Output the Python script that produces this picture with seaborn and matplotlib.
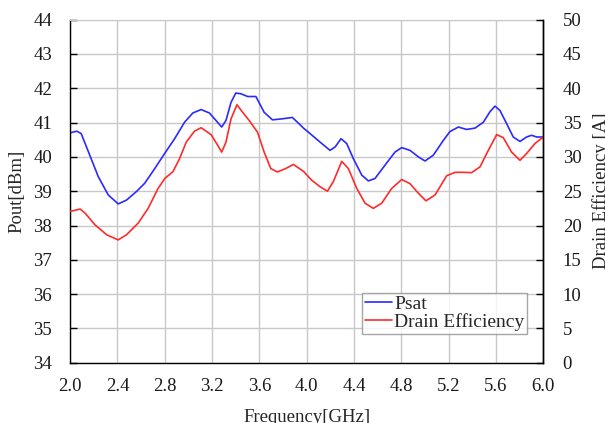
import matplotlib
matplotlib.use("Agg")
import matplotlib.pyplot as plt
import seaborn as sns
import pandas as pd

freq_psat = [2.000, 2.056, 2.093, 2.154, 2.238, 2.322, 2.406, 2.476, 2.560, 2.630, 2.715, 2.793,
             2.883, 2.967, 3.037, 3.107, 3.177, 3.233, 3.281, 3.317, 3.360, 3.400, 3.444, 3.500,
             3.570, 3.640, 3.710, 3.794, 3.878, 3.934, 3.972, 4.028, 4.113, 4.197, 4.240, 4.290,
             4.338, 4.394, 4.465, 4.521, 4.577, 4.662, 4.746, 4.803, 4.873, 4.944, 5.000, 5.070,
             5.155, 5.211, 5.282, 5.352, 5.423, 5.493, 5.550, 5.592, 5.634, 5.690, 5.746, 5.803,
             5.859, 5.901, 5.944, 6.000]
psat = [40.70, 40.75, 40.68, 40.15, 39.42, 38.89, 38.63, 38.74, 38.99, 39.23, 39.66, 40.07,
        40.53, 41.01, 41.28, 41.38, 41.28, 41.06, 40.87, 41.06, 41.59, 41.86, 41.84, 41.76,
        41.76, 41.30, 41.08, 41.11, 41.15, 40.97, 40.84, 40.68, 40.43, 40.19, 40.29, 40.53,
        40.39, 39.95, 39.47, 39.30, 39.37, 39.76, 40.14, 40.27, 40.19, 40.00, 39.88, 40.05,
        40.48, 40.74, 40.87, 40.80, 40.84, 41.01, 41.32, 41.48, 41.35, 40.97, 40.58, 40.45,
        40.58, 40.63, 40.58, 40.58]

freq_eff = [2.000, 2.084, 2.126, 2.210, 2.308, 2.406, 2.476, 2.575, 2.659, 2.743, 2.800, 2.869,
            2.925, 2.981, 3.051, 3.107, 3.191, 3.247, 3.281, 3.317, 3.360, 3.410, 3.458, 3.514,
            3.584, 3.640, 3.696, 3.752, 3.822, 3.887, 3.972, 4.042, 4.113, 4.175, 4.225, 4.296,
            4.352, 4.423, 4.493, 4.563, 4.634, 4.718, 4.803, 4.873, 4.944, 5.008, 5.085, 5.183,
            5.254, 5.324, 5.394, 5.465, 5.535, 5.606, 5.662, 5.732, 5.803, 5.859, 5.930, 6.000]
eff = [22.05, 22.40, 21.80, 20.10, 18.65, 17.90, 18.65, 20.35, 22.50, 25.40, 26.85, 27.85,
       29.75, 32.15, 33.75, 34.25, 33.25, 31.70, 30.70, 32.15, 35.55, 37.60, 36.50, 35.30,
       33.60, 30.70, 28.30, 27.80, 28.30, 28.90, 27.90, 26.60, 25.65, 25.00, 26.40, 29.35,
       28.30, 25.40, 23.25, 22.50, 23.25, 25.40, 26.70, 26.10, 24.70, 23.60, 24.45, 27.25,
       27.75, 27.75, 27.70, 28.55, 30.95, 33.25, 32.80, 30.70, 29.50, 30.50, 31.95, 32.90]

x_ticks = [2.0, 2.4, 2.8, 3.2, 3.6, 4.0, 4.4, 4.8, 5.2, 5.6, 6.0]
y_left_ticks = [34, 35, 36, 37, 38, 39, 40, 41, 42, 43, 44]
y_right_ticks = [0, 5, 10, 15, 20, 25, 30, 35, 40, 45, 50]

sns.set_style("white")
plt.rcParams['font.family'] = ['Liberation Serif', 'DejaVu Serif']
plt.rcParams['font.size'] = 13.5

df_p = pd.DataFrame({"Frequency": freq_psat, "Psat": psat})
df_e = pd.DataFrame({"Frequency": freq_eff, "Eff": eff})

fig = plt.figure(figsize=(6.05, 4.23), dpi=100)
ax = fig.add_axes([0.116, 0.1425, 0.782, 0.811])
ax2 = ax.twinx()

sns.lineplot(data=df_p, x="Frequency", y="Psat", ax=ax, color="#2a2aff", linewidth=1.2,
             label="Psat", legend=False, sort=False)
sns.lineplot(data=df_e, x="Frequency", y="Eff", ax=ax2, color="#ff2a2a", linewidth=1.2,
             label="Drain Efficiency", legend=False, sort=False)

ax.set_xlim(2.0, 6.0)
ax.set_ylim(34, 44)
ax2.set_ylim(0, 50)
ax.set_xticks(x_ticks)
ax.set_xticklabels([f"{t:.1f}" for t in x_ticks])
ax.set_yticks(y_left_ticks)
ax2.set_yticks(y_right_ticks)

ax.grid(True, color="#c8c8c8", linewidth=1.0)
ax.set_axisbelow(True)

for a in (ax, ax2):
    a.tick_params(direction="in", length=5, width=1, colors="black", labelcolor="#1a1a1a")
ax.tick_params(axis="y", pad=13)
ax.tick_params(axis="x", pad=11)
ax2.tick_params(axis="y", pad=14)

for s in ("left", "bottom", "right"):
    ax.spines[s].set_color("black")
    ax.spines[s].set_linewidth(1.0)
ax.spines["top"].set_color("#c8c8c8")
ax2.spines["top"].set_visible(False)
ax2.spines["left"].set_visible(False)
ax2.spines["bottom"].set_visible(False)
ax2.spines["right"].set_color("black")
ax2.spines["right"].set_linewidth(1.0)

ax.set_xlabel("Frequency[GHz]", labelpad=10)
ax.set_ylabel("Pout[dBm]", labelpad=6)
ax2.set_ylabel("Drain Efficiency [A]", labelpad=8)

h1, l1 = ax.get_legend_handles_labels()
h2, l2 = ax2.get_legend_handles_labels()
leg = ax2.legend(h1 + h2, l1 + l2, loc="lower left", bbox_to_anchor=(0.617, 0.084),
                 borderaxespad=0, frameon=True, fancybox=False, edgecolor="#909090",
                 handlelength=1.4, handletextpad=0.1, labelspacing=0.0, borderpad=0.15,
                 fontsize=14)
leg.get_frame().set_linewidth(1.0)

fig.savefig("out.png", dpi=100)
